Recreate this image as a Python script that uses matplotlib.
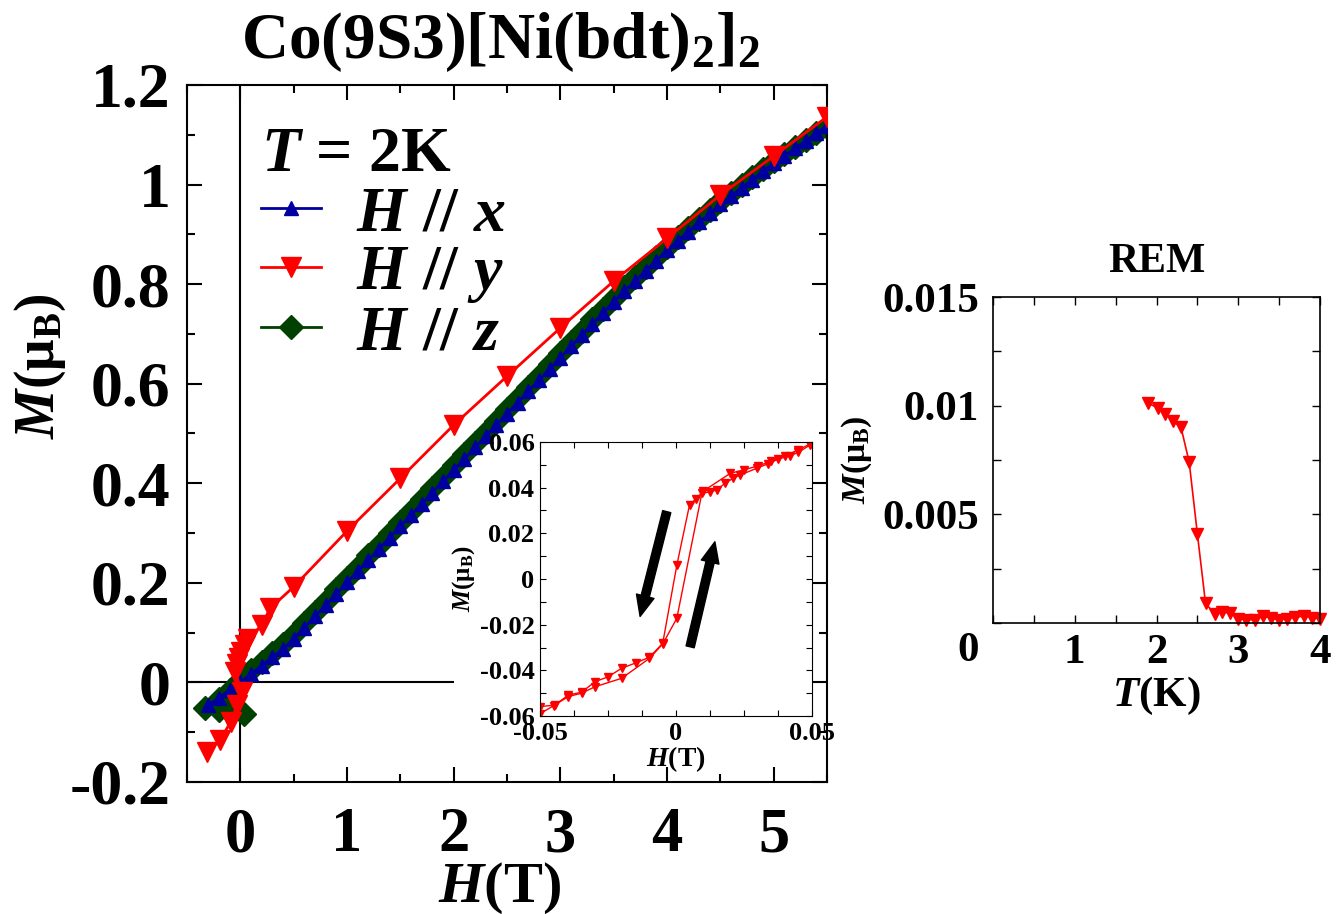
import matplotlib
matplotlib.use("Agg")
import matplotlib.pyplot as plt
from matplotlib.ticker import MultipleLocator, FuncFormatter

plt.rcParams['font.family'] = 'Liberation Serif'
plt.rcParams['font.weight'] = 'bold'
plt.rcParams['axes.labelweight'] = 'bold'
plt.rcParams['axes.titleweight'] = 'bold'
plt.rcParams['mathtext.fontset'] = 'custom'
plt.rcParams['mathtext.rm'] = 'Liberation Serif:bold'
plt.rcParams['mathtext.it'] = 'Liberation Serif:italic:bold'
plt.rcParams['mathtext.bf'] = 'Liberation Serif:bold'
plt.rcParams['axes.unicode_minus'] = False

# ---- main panel: M(H) at 2 K ----
h_x = [-0.3, -0.2, -0.1, 0.0, 0.1, 0.2, 0.3, 0.4, 0.5, 0.6, 0.7, 0.8, 0.9, 1.0,
       1.1, 1.2, 1.3, 1.4, 1.5, 1.6, 1.7, 1.8, 1.9, 2.0, 2.1, 2.2, 2.3, 2.4, 2.5,
       2.6, 2.7, 2.8, 2.9, 3.0, 3.1, 3.2, 3.3, 3.4, 3.5, 3.6, 3.7, 3.8, 3.9, 4.0,
       4.1, 4.2, 4.3, 4.4, 4.5, 4.6, 4.7, 4.8, 4.9, 5.0, 5.1, 5.2, 5.3, 5.4, 5.5]
m_x = [-0.046, -0.031, -0.016, 0.000, 0.017, 0.034, 0.051, 0.067, 0.088, 0.110,
       0.133, 0.155, 0.178, 0.201, 0.223, 0.246, 0.268, 0.291, 0.314, 0.336,
       0.359, 0.381, 0.404, 0.427, 0.449, 0.472, 0.494, 0.517, 0.540, 0.562,
       0.585, 0.607, 0.630, 0.652, 0.675, 0.697, 0.720, 0.742, 0.765, 0.786,
       0.806, 0.827, 0.847, 0.868, 0.887, 0.905, 0.924, 0.942, 0.960, 0.977,
       0.994, 1.010, 1.027, 1.043, 1.058, 1.073, 1.088, 1.103, 1.118]

h_y = [-0.31, -0.19, -0.09, -0.03, 0.02, -0.05, -0.03, -0.01, 0.01, 0.04, 0.075,
       0.2, 0.28, 0.5, 1.0, 1.5, 2.0, 2.5, 3.0, 3.5, 4.0, 4.5, 5.0, 5.5]
m_y = [-0.139, -0.116, -0.079, -0.046, -0.020, 0.020, 0.038, 0.050, 0.062, 0.075,
       0.088, 0.115, 0.149, 0.192, 0.304, 0.410, 0.517, 0.615, 0.712, 0.806,
       0.892, 0.979, 1.057, 1.136]

h_z = [0.03, -0.1, -0.2, -0.33, -0.2, -0.1, 0.0, 0.1, 0.2, 0.3, 0.4, 0.5, 0.6,
       0.7, 0.8, 0.9, 1.0, 1.1, 1.2, 1.3, 1.4, 1.5, 1.6, 1.7, 1.8, 1.9, 2.0, 2.1,
       2.2, 2.3, 2.4, 2.5, 2.6, 2.7, 2.8, 2.9, 3.0, 3.1, 3.2, 3.3, 3.4, 3.5, 3.6,
       3.7, 3.8, 3.9, 4.0, 4.1, 4.2, 4.3, 4.4, 4.5, 4.6, 4.7, 4.8, 4.9, 5.0, 5.1,
       5.2, 5.3, 5.4, 5.5]
m_z = [-0.064, -0.060, -0.056, -0.052, -0.034, -0.016, 0.004, 0.024, 0.042,
       0.060, 0.077, 0.097, 0.119, 0.142, 0.164, 0.187, 0.210, 0.232, 0.255,
       0.277, 0.300, 0.323, 0.345, 0.368, 0.390, 0.413, 0.436, 0.458, 0.481,
       0.503, 0.526, 0.549, 0.571, 0.594, 0.616, 0.639, 0.661, 0.684, 0.706,
       0.729, 0.751, 0.773, 0.794, 0.814, 0.835, 0.855, 0.875, 0.894, 0.912,
       0.930, 0.948, 0.966, 0.983, 0.999, 1.016, 1.032, 1.048, 1.062, 1.076,
       1.090, 1.103, 1.115]

# ---- inset: hysteresis loop, H // y ----
loop_h_down = [0.05, 0.045, 0.040, 0.035, 0.030, 0.025, 0.020, 0.010, 0.0075,
               0.005, 0.0003, -0.0049, -0.0098, -0.0147, -0.020, -0.0249,
               -0.0298, -0.0347, -0.0396, -0.0445, -0.050]
loop_m_down = [0.0596, 0.0565, 0.0540, 0.0515, 0.0495, 0.0478, 0.0463, 0.0385,
               0.0352, 0.0326, 0.0060, -0.0282, -0.0343, -0.0367, -0.0391,
               -0.0428, -0.0450, -0.0496, -0.0508, -0.0552, -0.0559]
loop_h_up = [-0.050, -0.045, -0.0396, -0.0347, -0.0298, -0.020, -0.0098, -0.0049,
             0.0003, 0.0095, 0.0125, 0.015, 0.018, 0.021, 0.0235, 0.0297, 0.0339,
             0.0376, 0.042, 0.045, 0.0493]
loop_m_up = [-0.0590, -0.0555, -0.0515, -0.0500, -0.0472, -0.0435, -0.0348,
             -0.0285, -0.0172, 0.0375, 0.0382, 0.0390, 0.0419, 0.0441, 0.0455,
             0.0485, 0.0505, 0.0525, 0.0540, 0.0555, 0.0587]

# ---- right panel: remanent magnetisation ----
rem_t = [1.90, 2.02, 2.11, 2.20, 2.30, 2.40, 2.50, 2.60, 2.71, 2.80, 2.90, 3.00,
         3.10, 3.20, 3.30, 3.40, 3.50, 3.60, 3.70, 3.80, 3.90, 4.00]
rem_m = [0.0101, 0.0099, 0.0096, 0.0093, 0.0090, 0.0074, 0.0041, 0.0009,
         0.00043, 0.0005, 0.00046, 0.0002, 0.00015, 0.00015, 0.00031, 0.00023,
         0.00015, 0.0002, 0.00028, 0.00031, 0.00025, 0.0002]

W, H = 1342, 914


def box(l, t, r, b):
    return [l / W, 1 - b / H, (r - l) / W, (b - t) / H]


def fmt(v, pos):
    return f"{round(v, 6) + 0.0:g}"


def blank_zero(v, pos):
    return "" if abs(v) < 1e-9 else f"{round(v, 6) + 0.0:g}"


fig = plt.figure(figsize=(W / 100, H / 100), dpi=100)

# main axes
ax = fig.add_axes(box(187, 85, 827, 782))
ax.axvline(0, color='k', lw=1.5, zorder=1)
ax.hlines(0, -0.5, 2.0, color='k', lw=1.5, zorder=1)
ax.plot(h_z, m_z, color='#004000', marker='D', ms=12, lw=2, label='$H$ // $z$', zorder=2)
ax.plot(h_x, m_x, color='#0000a0', marker='^', ms=10, lw=2, label='$H$ // $x$', zorder=3)
ax.plot(h_y, m_y, color='#ff0000', marker='v', ms=15, lw=2, label='$H$ // $y$', zorder=4)
ax.set_xlim(-0.5, 5.5)
ax.set_ylim(-0.2, 1.2)
ax.set_xticks(range(0, 6))
ax.xaxis.set_minor_locator(MultipleLocator(0.5))
ax.yaxis.set_major_locator(MultipleLocator(0.2))
ax.yaxis.set_minor_locator(MultipleLocator(0.1))
ax.xaxis.set_major_formatter(FuncFormatter(fmt))
ax.yaxis.set_major_formatter(FuncFormatter(fmt))
ax.tick_params(which='both', direction='in', top=True, right=True, width=1.5)
ax.tick_params(which='major', length=11)
ax.tick_params(which='minor', length=6)
ax.tick_params(axis='x', labelsize=45, pad=18)
ax.tick_params(axis='y', labelsize=46, pad=12)
for s in ax.spines.values():
    s.set_linewidth(1.5)
ax.set_xlabel('$H$(T)', fontsize=42)
ax.xaxis.label.set_va('center')
ax.xaxis.set_label_coords(0.489, -0.152)
ax.set_ylabel(r'$M$(μ$_\mathrm{B}$)', fontsize=40)
ax.yaxis.label.set_va('center')
ax.yaxis.set_label_coords(-0.23, 0.596)

handles, labels = ax.get_legend_handles_labels()
order = [1, 2, 0]
leg = ax.legend([handles[i] for i in order], [labels[i] for i in order],
                title='$T$ = 2K', title_fontsize=46, fontsize=46, frameon=False,
                loc='upper left', bbox_to_anchor=(0.09, 0.962), alignment='left',
                handlelength=0.95, handletextpad=0.55, labelspacing=0.0,
                borderpad=0.25, borderaxespad=0)

fig.text(501 / W, 1 - 58 / H, 'Co(9S3)[Ni(bdt)$_2$]$_2$', fontsize=47,
         ha='center', va='baseline')

# inset
ai = fig.add_axes(box(540, 442, 812, 716))
ai.plot(loop_h_down, loop_m_down, color='#ff0000', marker='v', ms=6, lw=1.0)
ai.plot(loop_h_up, loop_m_up, color='#ff0000', marker='v', ms=6, lw=1.0)
ai.set_xlim(-0.05, 0.05)
ai.set_ylim(-0.06, 0.06)
ai.set_xticks([-0.05, 0, 0.05])
ai.xaxis.set_minor_locator(MultipleLocator(0.0125))
ai.yaxis.set_major_locator(MultipleLocator(0.02))
ai.yaxis.set_minor_locator(MultipleLocator(0.01))
ai.xaxis.set_major_formatter(FuncFormatter(fmt))
ai.yaxis.set_major_formatter(FuncFormatter(fmt))
ai.tick_params(which='both', direction='in', top=True, right=True, width=0.8,
               length=4, labelsize=19, pad=4)
for s in ai.spines.values():
    s.set_linewidth(0.8)
ai.set_xlabel('$H$(T)', fontsize=20, labelpad=0)
ai.set_ylabel(r'$M$(μ$_\mathrm{B}$)', fontsize=18, labelpad=2)
arrow = dict(arrowstyle='simple,head_length=0.75,head_width=0.65,tail_width=0.3',
             color='k', mutation_scale=20, shrinkA=0, shrinkB=0)
ai.annotate('', xy=(-0.0132, -0.0164), xytext=(-0.0034, 0.0295), arrowprops=arrow)
ai.annotate('', xy=(0.0143, 0.0163), xytext=(0.0052, -0.0297), arrowprops=arrow)

# remanence panel
ar = fig.add_axes(box(993, 297, 1320, 623))
ar.plot(rem_t, rem_m, color='#ff0000', marker='v', ms=9, lw=1.2, clip_on=False)
ar.set_xlim(0, 4)
ar.set_ylim(0, 0.015)
ar.set_xticks([0, 1, 2, 3, 4])
ar.xaxis.set_minor_locator(MultipleLocator(0.5))
ar.set_yticks([0, 0.005, 0.01, 0.015])
ar.yaxis.set_minor_locator(MultipleLocator(0.0025))
ar.xaxis.set_major_formatter(FuncFormatter(blank_zero))
ar.yaxis.set_major_formatter(FuncFormatter(blank_zero))
ar.tick_params(which='both', direction='in', top=True, right=True, width=1.0,
               length=6, labelsize=31)
ar.tick_params(axis='x', pad=8)
ar.tick_params(axis='y', pad=10)
for s in ar.spines.values():
    s.set_linewidth(1.2)
ar.text(-0.075, -0.085, '0', transform=ar.transAxes, fontsize=31,
        ha='center', va='center')
ar.set_title('REM', fontsize=30, pad=18)
ar.set_xlabel('$T$(K)', fontsize=31, labelpad=2)
ar.set_ylabel(r'$M$(μ$_\mathrm{B}$)', fontsize=24, labelpad=6)

fig.savefig('out.png', dpi=100)
